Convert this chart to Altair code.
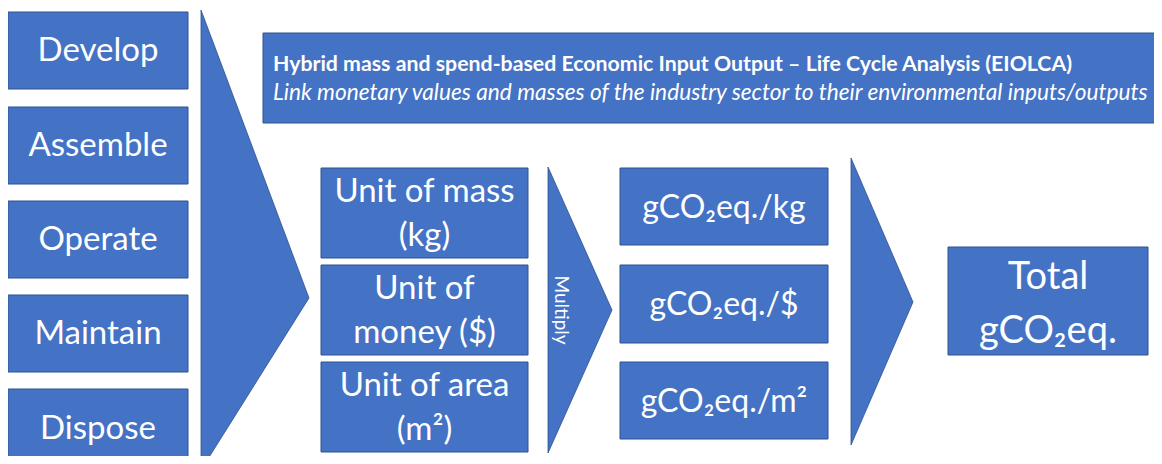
import altair as alt
import pandas as pd

# ---- diagram content (image pixel coordinates) ----
stage_labels = ["Develop", "Assemble", "Operate", "Maintain", "Dispose"]
stage_x0 = [8, 8, 8, 8, 8]
stage_x1 = [188, 188, 188, 188, 188]
stage_y0 = [12, 107, 201, 295, 389]
stage_y1 = [89, 184, 278, 372, 468]
stage_cy = [51, 146, 240, 334, 429]

unit_labels = ["Unit of mass\n(kg)", "Unit of\nmoney ($)", "Unit of area\n(m²)"]
unit_x0 = [321, 321, 321]
unit_x1 = [528, 528, 528]
unit_y0 = [168, 265, 362]
unit_y1 = [258, 355, 452]

factor_labels = ["gCO₂eq./kg", "gCO₂eq./$", "gCO₂eq./m²"]
factor_x0 = [620, 620, 620]
factor_x1 = [828, 828, 828]
factor_y0 = [168, 265, 362]
factor_y1 = [245, 343, 439]

total_label = ["Total\ngCO₂eq."]
total_x0 = [948]
total_x1 = [1148]
total_y0 = [247]
total_y1 = [355]

header_title = ["Hybrid mass and spend-based Economic Input Output – Life Cycle Analysis (EIOLCA)"]
header_sub = ["Link monetary values and masses of the industry sector to their environmental inputs/outputs"]
header_x0 = [263]
header_x1 = [1156]
header_y0 = [33]
header_y1 = [123]

multiply_label = ["Multiply"]

# chevrons: id, x, top edge, bottom edge
chev_id = ["a", "a", "b", "b", "c", "c"]
chev_x = [201, 309, 548, 612, 851, 913]
chev_top = [10, 298, 167, 310, 158, 302]
chev_bot = [470, 298, 453, 310, 445, 302]

FILL = "#4472C4"
EDGE = "#2F528F"
FONT = "Lato"

W, H = 1146, 448
xs = alt.Scale(domain=[8, 8 + W], nice=False, zero=False)
ys = alt.Scale(domain=[8, 8 + H], nice=False, zero=False, reverse=True)


def X(f):
    return alt.X(f, type="quantitative", scale=xs, axis=None)


def Y(f):
    return alt.Y(f, type="quantitative", scale=ys, axis=None)


boxes = pd.DataFrame({
    "x0": stage_x0 + unit_x0 + factor_x0 + total_x0 + header_x0,
    "x1": stage_x1 + unit_x1 + factor_x1 + total_x1 + header_x1,
    "y0": stage_y0 + unit_y0 + factor_y0 + total_y0 + header_y0,
    "y1": stage_y1 + unit_y1 + factor_y1 + total_y1 + header_y1,
})

rects = alt.Chart(boxes).mark_rect(fill=FILL, stroke=EDGE, strokeWidth=1).encode(
    x=X("x0"), x2="x1", y=Y("y0"), y2="y1"
)

chev = pd.DataFrame({"id": chev_id, "x": chev_x, "top": chev_top, "bot": chev_bot})
chevrons = alt.Chart(chev).mark_area(fill=FILL, stroke=EDGE, strokeWidth=0.8, opacity=1).encode(
    x=X("x"), y=Y("top"), y2="bot", detail="id:N"
)


def label_df(labels, x0, x1, y0, y1):
    return pd.DataFrame({
        "t": labels,
        "cx": [(a + b) / 2 for a, b in zip(x0, x1)],
        "cy": [(a + b) / 2 for a, b in zip(y0, y1)],
    })


stage_df = pd.DataFrame({
    "t": stage_labels,
    "cx": [(a + b) / 2 for a, b in zip(stage_x0, stage_x1)],
    "cy": stage_cy,
})
stage_txt = alt.Chart(stage_df).mark_text(
    font=FONT, fontSize=33, color="white", baseline="middle", align="center"
).encode(x=X("cx"), y=Y("cy"), text="t:N")

unit_txt = alt.Chart(label_df(unit_labels, unit_x0, unit_x1, unit_y0, unit_y1)).mark_text(
    font=FONT, fontSize=33, color="white", baseline="middle", align="center",
    lineBreak="\n", lineHeight=44, dy=-21
).encode(x=X("cx"), y=Y("cy"), text="t:N")

factor_txt = alt.Chart(label_df(factor_labels, factor_x0, factor_x1, factor_y0, factor_y1)).mark_text(
    font=FONT, fontSize=32, color="white", baseline="middle", align="center", dy=1
).encode(x=X("cx"), y=Y("cy"), text="t:N")

total_txt = alt.Chart(label_df(total_label, total_x0, total_x1, total_y0, total_y1)).mark_text(
    font=FONT, fontSize=38, color="white", baseline="middle", align="center",
    lineBreak="\n", lineHeight=54, dy=-23
).encode(x=X("cx"), y=Y("cy"), text="t:N")

hdr = pd.DataFrame({"t": header_title, "x": [x + 10 for x in header_x0], "y": [65]})
hdr_txt = alt.Chart(hdr).mark_text(
    font=FONT, fontSize=21.3, fontWeight="bold", color="white", baseline="middle", align="left"
).encode(x=X("x"), y=Y("y"), text="t:N")

sub = pd.DataFrame({"t": header_sub, "x": [x + 10 for x in header_x0], "y": [93]})
sub_txt = alt.Chart(sub).mark_text(
    font=FONT, fontSize=22.7, fontStyle="italic", color="white", baseline="middle", align="left"
).encode(x=X("x"), y=Y("y"), text="t:N")

mul = pd.DataFrame({"t": multiply_label, "x": [561], "y": [310]})
mul_txt = alt.Chart(mul).mark_text(
    font=FONT, fontSize=19, color="white", baseline="middle", align="center", angle=90
).encode(x=X("x"), y=Y("y"), text="t:N")

chart = alt.layer(
    rects, chevrons, stage_txt, unit_txt, factor_txt, total_txt, hdr_txt, sub_txt, mul_txt
).properties(
    width=W, height=H, padding=0, autosize=alt.AutoSizeParams(type="none"), background="white"
).configure_view(stroke=None)

chart.save("out.html", embed_options={"renderer": "svg", "actions": False})
